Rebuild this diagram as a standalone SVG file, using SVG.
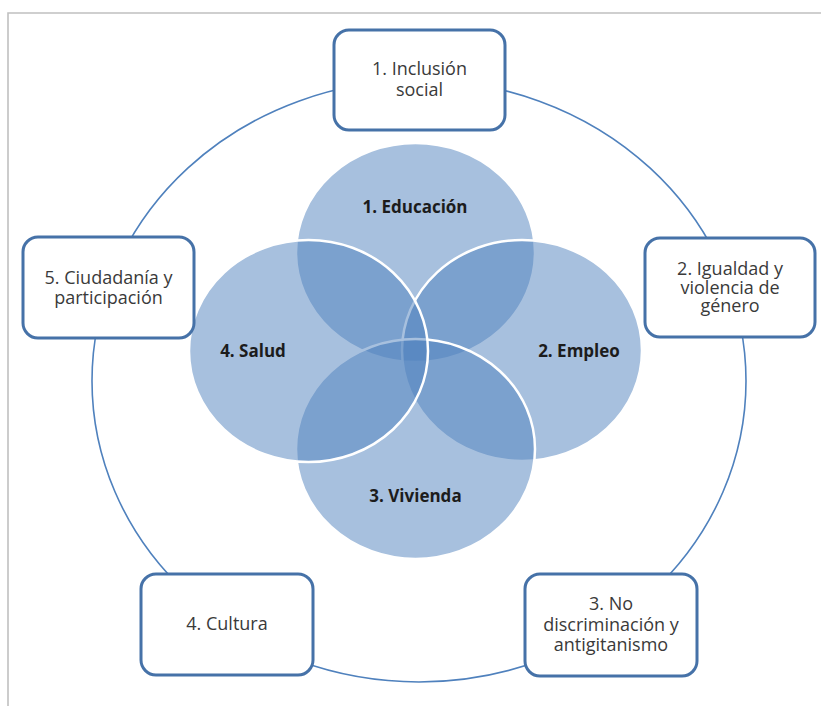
<svg xmlns="http://www.w3.org/2000/svg" width="821" height="706" viewBox="0 0 821 706">
<style>
.frame{fill:none;stroke:#c0c0c0;stroke-width:1.6}
.ring{fill:none;stroke:#4f81bd;stroke-width:1.6}
.box{fill:#ffffff;stroke:#4672a8;stroke-width:3}
.venn{fill:#4f81bd;fill-opacity:0.5;stroke:#ffffff;stroke-width:2.5}
.bt{font-family:"Open Sans","Liberation Sans",sans-serif;font-size:18px;fill:#3a3a3a;text-anchor:middle}
.vt{font-family:"Open Sans","Liberation Sans",sans-serif;font-size:17px;font-weight:bold;fill:#1c1c1c;text-anchor:middle}
</style>
<rect x="0" y="0" width="821" height="706" fill="#ffffff"/>
<path class="frame" d="M8,706 V13 H821"/>
<g id="connectors">
<ellipse class="ring" cx="419" cy="381" rx="327" ry="301"/>
</g>
<g id="venn">
<g id="educacion"><ellipse class="venn" cx="415.5" cy="252.5" rx="119.5" ry="109.5"/></g>
<g id="empleo"><ellipse class="venn" cx="522" cy="350.5" rx="120" ry="110.5"/></g>
<g id="vivienda"><ellipse class="venn" cx="415.5" cy="449" rx="119.5" ry="110"/></g>
<g id="salud"><ellipse class="venn" cx="308.5" cy="351" rx="119.5" ry="111"/></g>
<text class="vt" x="415" y="213">1. Educación</text>
<text class="vt" x="579" y="357">2. Empleo</text>
<text class="vt" x="415.5" y="502">3. Vivienda</text>
<text class="vt" x="253" y="357">4. Salud</text>
</g>
<g id="box1">
<rect class="box" x="334" y="30" width="171" height="100" rx="15"/>
<text class="bt" x="419.5" y="75">1. Inclusión</text>
<text class="bt" x="419.5" y="95.5">social</text>
</g>
<g id="box2">
<rect class="box" x="645" y="238" width="170" height="99" rx="15"/>
<text class="bt" x="730" y="275">2. Igualdad y</text>
<text class="bt" x="730" y="293.5">violencia de</text>
<text class="bt" x="730" y="312">género</text>
</g>
<g id="box3">
<rect class="box" x="525" y="574" width="172" height="102" rx="15"/>
<text class="bt" x="611" y="610">3. No</text>
<text class="bt" x="611" y="630.5">discriminación y</text>
<text class="bt" x="611" y="651">antigitanismo</text>
</g>
<g id="box4">
<rect class="box" x="141" y="574" width="172" height="101" rx="15"/>
<text class="bt" x="227" y="630">4. Cultura</text>
</g>
<g id="box5">
<rect class="box" x="23" y="237" width="171" height="101" rx="15"/>
<text class="bt" x="108.5" y="284">5. Ciudadanía y</text>
<text class="bt" x="108.5" y="304">participación</text>
</g>
</svg>
